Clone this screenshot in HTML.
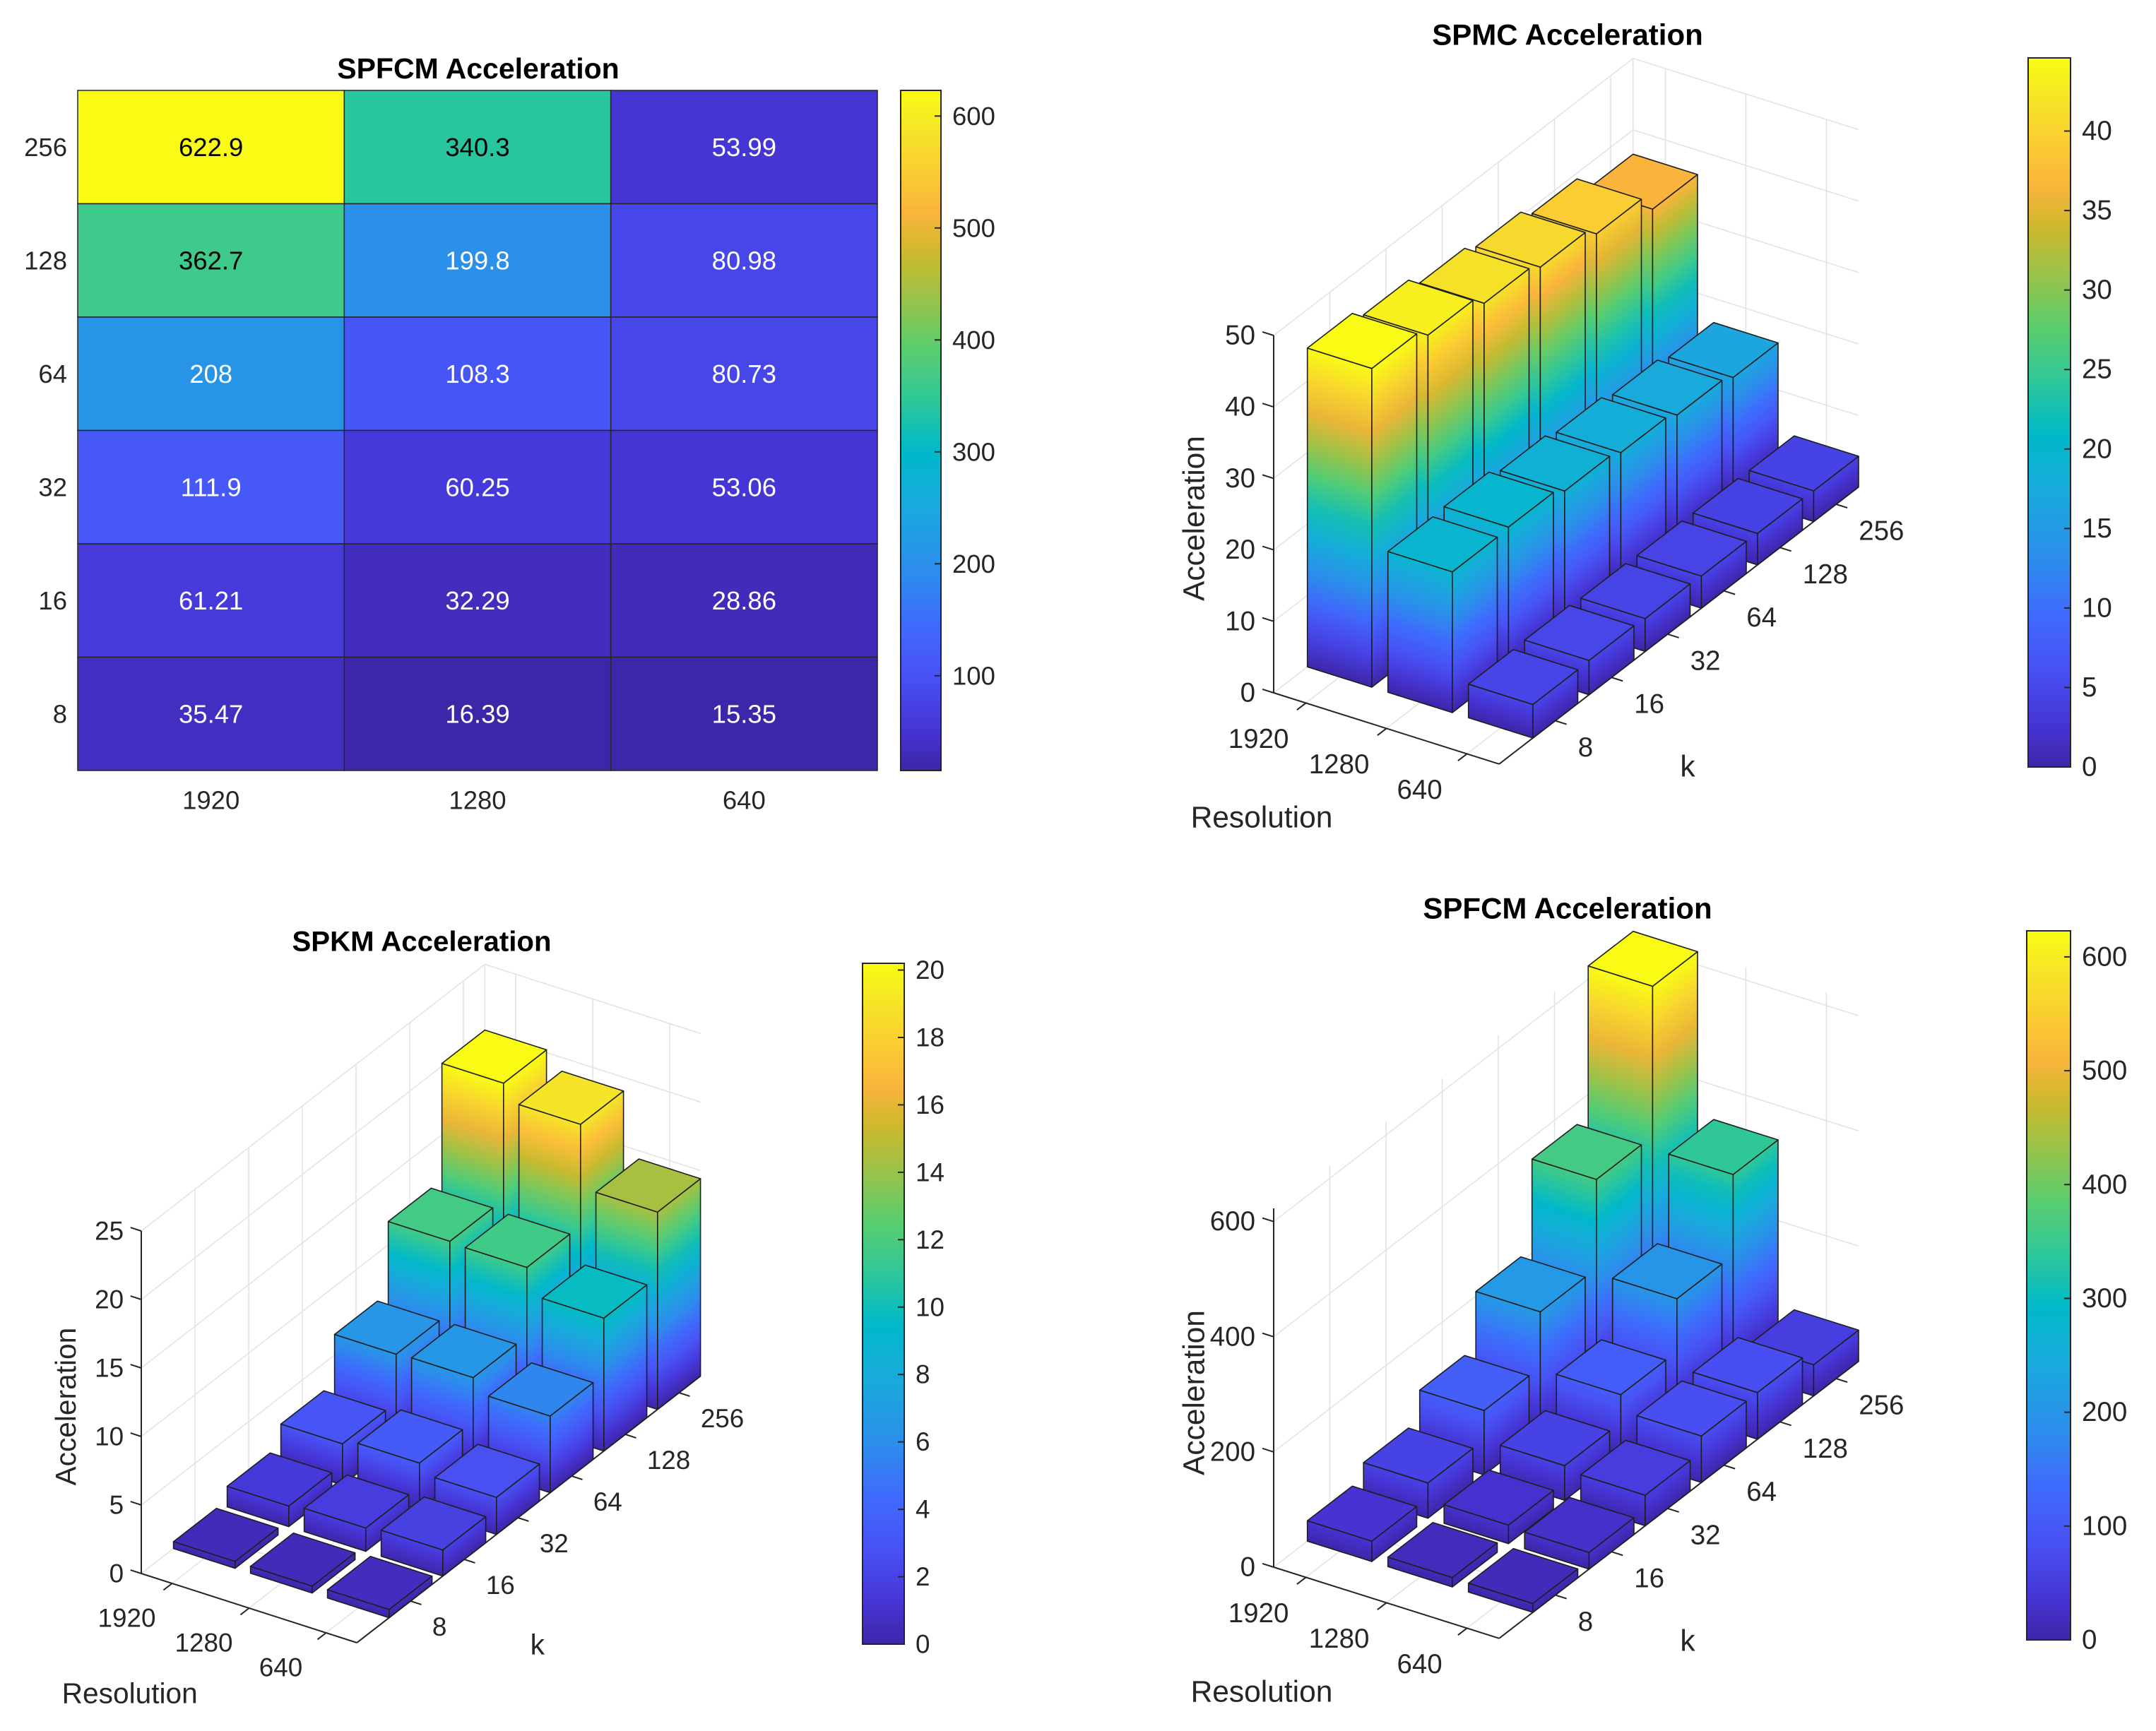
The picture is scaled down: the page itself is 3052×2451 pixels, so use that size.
<!DOCTYPE html>
<html><head><meta charset="utf-8"><title>Acceleration charts</title>
<style>html,body{margin:0;padding:0;background:#fff}svg{display:block}text{font-family:"Liberation Sans",Arial,sans-serif}</style>
</head><body>
<svg id="fig" xmlns="http://www.w3.org/2000/svg" width="3052" height="2451" viewBox="0 0 3052 2451">
<rect x="0" y="0" width="3052" height="2451" fill="#ffffff"/>
<defs id="defs"></defs>
</svg>
<script>
// ---------- data ----------
const resLabels = ["1920", "1280", "640"];
const kLabels = ["8", "16", "32", "64", "128", "256"];
// rows: k = 8..256, columns: 1920, 1280, 640
const spfcmValues = [
  [35.47, 16.39, 15.35],
  [61.21, 32.29, 28.86],
  [111.9, 60.25, 53.06],
  [208, 108.3, 80.73],
  [362.7, 199.8, 80.98],
  [622.9, 340.3, 53.99]
];
const spmcValues = [
  [44.6, 19.7, 4.7],
  [43.2, 19.9, 4.8],
  [41.6, 18.9, 4.6],
  [40.6, 18.2, 4.5],
  [39.2, 17.4, 4.4],
  [36.6, 16.6, 4.3]
];
const spkmValues = [
  [0.5, 0.5, 0.6],
  [1.5, 1.7, 1.9],
  [3.0, 3.4, 2.7],
  [6.5, 6.6, 5.6],
  [11.7, 11.6, 9.7],
  [20.2, 19.0, 14.4]
];
const hmCbTicks = [100, 200, 300, 400, 500, 600];
const spmcZTicks = [0, 10, 20, 30, 40, 50];
const spmcCbTicks = [0, 5, 10, 15, 20, 25, 30, 35, 40];
const spkmZTicks = [0, 5, 10, 15, 20, 25];
const spkmCbTicks = [0, 2, 4, 6, 8, 10, 12, 14, 16, 18, 20];
const spfcmZTicks = [0, 200, 400, 600];
const spfcmCbTicks = [0, 100, 200, 300, 400, 500, 600];

// ---------- helpers ----------
const NS = "http://www.w3.org/2000/svg";
const svg = document.getElementById("fig");
const defs = document.getElementById("defs");
let gid = 0;
function el(tag, attrs, parent) {
  const e = document.createElementNS(NS, tag);
  for (const k in attrs) e.setAttribute(k, attrs[k]);
  (parent || svg).appendChild(e);
  return e;
}
const PAR = [
  [0.00, [62, 38, 168]],
  [0.06, [70, 52, 212]],
  [0.14, [72, 82, 245]],
  [0.22, [62, 108, 252]],
  [0.29, [45, 140, 236]],
  [0.39, [25, 170, 220]],
  [0.47, [0, 185, 200]],
  [0.55, [50, 200, 150]],
  [0.62, [90, 205, 110]],
  [0.69, [150, 195, 75]],
  [0.76, [205, 185, 45]],
  [0.82, [250, 180, 60]],
  [0.88, [250, 205, 50]],
  [0.94, [245, 228, 40]],
  [1.00, [249, 251, 20]]
];
function parula(t) {
  t = Math.max(0, Math.min(1, t));
  for (let i = 1; i < PAR.length; i++) {
    if (t <= PAR[i][0]) {
      const a = PAR[i - 1], b = PAR[i];
      const f = (t - a[0]) / (b[0] - a[0]);
      const c = a[1].map((v, k) => Math.round(v + (b[1][k] - v) * f));
      return "rgb(" + c.join(",") + ")";
    }
  }
  return "rgb(249,251,20)";
}
function gradient(x1, y1, x2, y2, t0, t1, n) {
  const id = "g" + (gid++);
  const g = el("linearGradient", {id: id, gradientUnits: "userSpaceOnUse", x1: x1, y1: y1, x2: x2, y2: y2}, defs);
  for (let i = 0; i <= n; i++) {
    const f = i / n;
    el("stop", {offset: f, "stop-color": parula(t0 + (t1 - t0) * f)}, g);
  }
  return "url(#" + id + ")";
}
function text(str, x, y, size, anchor, parent, extra) {
  const t = el("text", Object.assign({x: x, y: y, "font-size": size, "text-anchor": anchor || "middle", "dominant-baseline": "central", fill: "#262626"}, extra || {}), parent);
  t.textContent = str;
  return t;
}
function colorbar(x, y, w, h, cmin, cmax, ticks, fs, name) {
  const g = el("g", {});
  
  
  const fill = gradient(0, y + h, 0, y, 0, 1, 60);
  const r = el("rect", {x: x, y: y, width: w, height: h, fill: fill, stroke: "#262626", "stroke-width": 2}, g);
  
  
  ticks.forEach(v => {
    const ty = y + h - (v - cmin) / (cmax - cmin) * h;
    const tl = el("line", {x1: x + w - 9, y1: ty, x2: x + w, y2: ty, stroke: "#262626", "stroke-width": 2}, g);
    
    
    const tt = text(String(v), x + w + 16, ty, fs, "start", g);
    
    
  });
}

// ---------- heatmap ----------
(function () {
  const g = el("g", {});
  
  
  const x0 = 110, x1 = 1242, y0 = 128, y1 = 1091;
  const flat = spfcmValues.flat();
  const vmin = Math.min(...flat), vmax = Math.max(...flat);
  const cw = (x1 - x0) / resLabels.length, ch = (y1 - y0) / kLabels.length;
  const nR = kLabels.length;
  for (let r = 0; r < nR; r++) {
    const row = nR - 1 - r;
    for (let c = 0; c < resLabels.length; c++) {
      const v = spfcmValues[row][c];
      const t = (v - vmin) / (vmax - vmin);
      const cell = el("rect", {x: x0 + c * cw, y: y0 + r * ch, width: cw, height: ch, fill: parula(t), stroke: "#262626", "stroke-width": 1.5}, g);
      
      
      const lab = text(String(v), x0 + (c + 0.5) * cw, y0 + (r + 0.5) * ch, 36.5, "middle", g, {fill: t > 0.45 ? "#000000" : "#ffffff"});
      
      
    }
    const yl = text(kLabels[row], 95, y0 + (r + 0.5) * ch, 36.5, "end", g);
    
    
  }
  for (let c = 0; c < resLabels.length; c++) {
    const xl = text(resLabels[c], x0 + (c + 0.5) * cw, 1133, 36.5, "middle", g);
    
    
  }
  const tt = text("SPFCM Acceleration", 677, 97, 41, "middle", g, {"font-weight": "bold", fill: "#000"});
  
  
  colorbar(1275, 128, 57, 963, vmin, vmax, hmCbTicks, 36.5, 'heatmap-colorbar');
})();

// ---------- 3D bar charts ----------
function bar3(cfg) {
  const g = el("g", {});
  
  
  const data = cfg.values;
  const s = cfg.scale;
  const nX = resLabels.length, nY = kLabels.length;
  const xMin = 0.6, xMax = nX + 0.4, yMin = 0, yMax = nY + 0.4;
  const zMax = cfg.zMax;
  const zs = cfg.zLen / zMax;
  const cMax = Math.max(...data.flat());
  function P(x, y, z) {
    return [cfg.O[0] + (x - xMin) * cfg.R[0] + (y - yMin) * cfg.K[0],
            cfg.O[1] + (x - xMin) * cfg.R[1] + (y - yMin) * cfg.K[1] - z * zs];
  }
  function line(a, b, stroke, w, name) {
    const l = el("line", {x1: a[0], y1: a[1], x2: b[0], y2: b[1], stroke: stroke, "stroke-width": w}, g);
    
    
    return l;
  }
  const GC = "#e2e2e2";
  cfg.zTicks.forEach(z => {
    line(P(xMin, yMin, z), P(xMin, yMax, z), GC, 1.5, 'grid-line');
    line(P(xMin, yMax, z), P(xMax, yMax, z), GC, 1.5, 'grid-line');
  });
  for (let j = 1; j <= nY; j++) {
    line(P(xMin, j, 0), P(xMin, j, zMax), GC, 1.5, 'grid-line');
    line(P(xMin, j, 0), P(xMax, j, 0), GC, 1.5, 'grid-line');
  }
  for (let i = 1; i <= nX; i++) {
    line(P(i, yMax, 0), P(i, yMax, zMax), GC, 1.5, 'grid-line');
    line(P(i, yMin, 0), P(i, yMax, 0), GC, 1.5, 'grid-line');
  }
  line(P(xMin, yMax, 0), P(xMin, yMax, zMax), GC, 1.5, 'grid-line');
  const AC = "#262626";
  line(P(xMin, yMin, 0), P(xMin, yMin, zMax), AC, 2, 'z-axis-line');
  line(P(xMin, yMin, 0), P(xMax, yMin, 0), AC, 2, 'x-axis-line');
  line(P(xMax, yMin, 0), P(xMax, yMax, 0), AC, 2, 'y-axis-line');
  const fsT = 38.5 * s, fsL = 42.5 * s;
  cfg.zTicks.forEach(z => {
    const a = P(xMin, yMin, z);
    line(a, [a[0] - 0.14 * cfg.R[0], a[1] - 0.14 * cfg.R[1]], AC, 2, 'z-tick');
    const t = text(String(z), a[0] - 26 * s, a[1], fsT, "end", g);
    
    
  });
  for (let i = 1; i <= nX; i++) {
    const a = P(i, yMin, 0);
    line(a, [a[0] - 0.16 * cfg.K[0], a[1] - 0.16 * cfg.K[1]], AC, 2, 'x-tick');
    const t = text(resLabels[i - 1], a[0] - 67 * s, a[1] + 51 * s, fsT, "middle", g);
    
    
  }
  for (let j = 1; j <= nY; j++) {
    const a = P(xMax, j, 0);
    line(a, [a[0] + 0.14 * cfg.R[0], a[1] + 0.14 * cfg.R[1]], AC, 2, 'y-tick');
    const t = text(kLabels[j - 1], a[0] + 32 * s, a[1] + 38 * s, fsT, "start", g);
    
    
  }
  const O = cfg.O;
  let t = text("Resolution", O[0] - 17 * s, O[1] + 177 * s, fsL, "middle", g);
  
  
  t = text("k", O[0] + 586 * s, O[1] + 105 * s, fsL, "middle", g);
  
  
  const ax = O[0] - 112 * s, ay = O[1] - 247 * s;
  t = text("Acceleration", ax, ay, fsL, "middle", g, {transform: "rotate(-90 " + ax + " " + ay + ")"});
  
  
  t = text(cfg.title, cfg.titlePos[0], cfg.titlePos[1], 42 * s, "middle", g, {"font-weight": "bold", fill: "#000"});
  
  

  const bars = [];
  for (let j = 0; j < nY; j++) for (let i = 0; i < nX; i++) bars.push({x: i + 1, y: j + 1, h: data[j][i]});
  bars.sort((a, b) => P(a.x, a.y, 0)[1] - P(b.x, b.y, 0)[1]);
  const Rl = Math.hypot(cfg.R[0], cfg.R[1]), Kl = Math.hypot(cfg.K[0], cfg.K[1]);
  const nF = [cfg.R[1] / Rl, -cfg.R[0] / Rl];
  bars.forEach(b => {
    const x = b.x, y = b.y, h = b.h, w = 0.4;
    const bg = el("g", {}, g);
    
    
    const tTop = h / cMax;
    const H = h * zs;
    const poly = (pts, fill, name) => {
      const p = el("polygon", {points: pts.map(q => q[0].toFixed(1) + "," + q[1].toFixed(1)).join(" "), fill: fill, stroke: "#1e1e1e", "stroke-width": 1.6, "stroke-linejoin": "round"}, bg);
      
      
    };
    const f0 = P(x - w, y - w, 0);
    const dF = H * Math.abs(nF[1]);
    poly([f0, P(x + w, y - w, 0), P(x + w, y - w, h), P(x - w, y - w, h)],
      gradient(f0[0], f0[1], f0[0] + nF[0] * dF, f0[1] + nF[1] * dF, 0, tTop, 10), 'bar-front-face');
    const s0 = P(x + w, y - w, 0);
    let n2 = [cfg.K[1] / Kl, -cfg.K[0] / Kl];
    if (n2[1] > 0) n2 = [-n2[0], -n2[1]];
    const dS = H * Math.abs(n2[1]);
    poly([s0, P(x + w, y + w, 0), P(x + w, y + w, h), P(x + w, y - w, h)],
      gradient(s0[0], s0[1], s0[0] + n2[0] * dS, s0[1] + n2[1] * dS, 0, tTop, 10), 'bar-side-face');
    poly([P(x - w, y - w, h), P(x + w, y - w, h), P(x + w, y + w, h), P(x - w, y + w, h)], parula(tTop), 'bar-top-face');
  });
  colorbar(cfg.cb[0], cfg.cb[1], cfg.cb[2], cfg.cb[3], 0, cMax, cfg.cbTicks, 38.5 * s, cfg.name + '-colorbar');
}

bar3({name: 'spmc-bar3-chart', title: 'SPMC Acceleration', titlePos: [2219, 49], values: spmcValues,
  O: [1803, 981], R: [114, 36], K: [79.5, -61.3], zLen: 506, zMax: 50, zTicks: spmcZTicks,
  cb: [2871, 82, 60, 1004], cbTicks: spmcCbTicks, scale: 1});
bar3({name: 'spkm-bar3-chart', title: 'SPKM Acceleration', titlePos: [597, 1333], values: spkmValues,
  O: [200, 2228], R: [109, 35], K: [76, -59], zLen: 485, zMax: 25, zTicks: spkmZTicks,
  cb: [1221, 1364, 59, 964], cbTicks: spkmCbTicks, scale: 0.957});
bar3({name: 'spfcm-bar3-chart', title: 'SPFCM Acceleration', titlePos: [2219, 1286], values: spfcmValues,
  O: [1803, 2219], R: [114, 36], K: [79.5, -61.3], zLen: 508, zMax: Math.max(...spfcmValues.flat()), zTicks: spfcmZTicks,
  cb: [2869, 1318, 62, 1004], cbTicks: spfcmCbTicks, scale: 1});
</script>
</body></html>
